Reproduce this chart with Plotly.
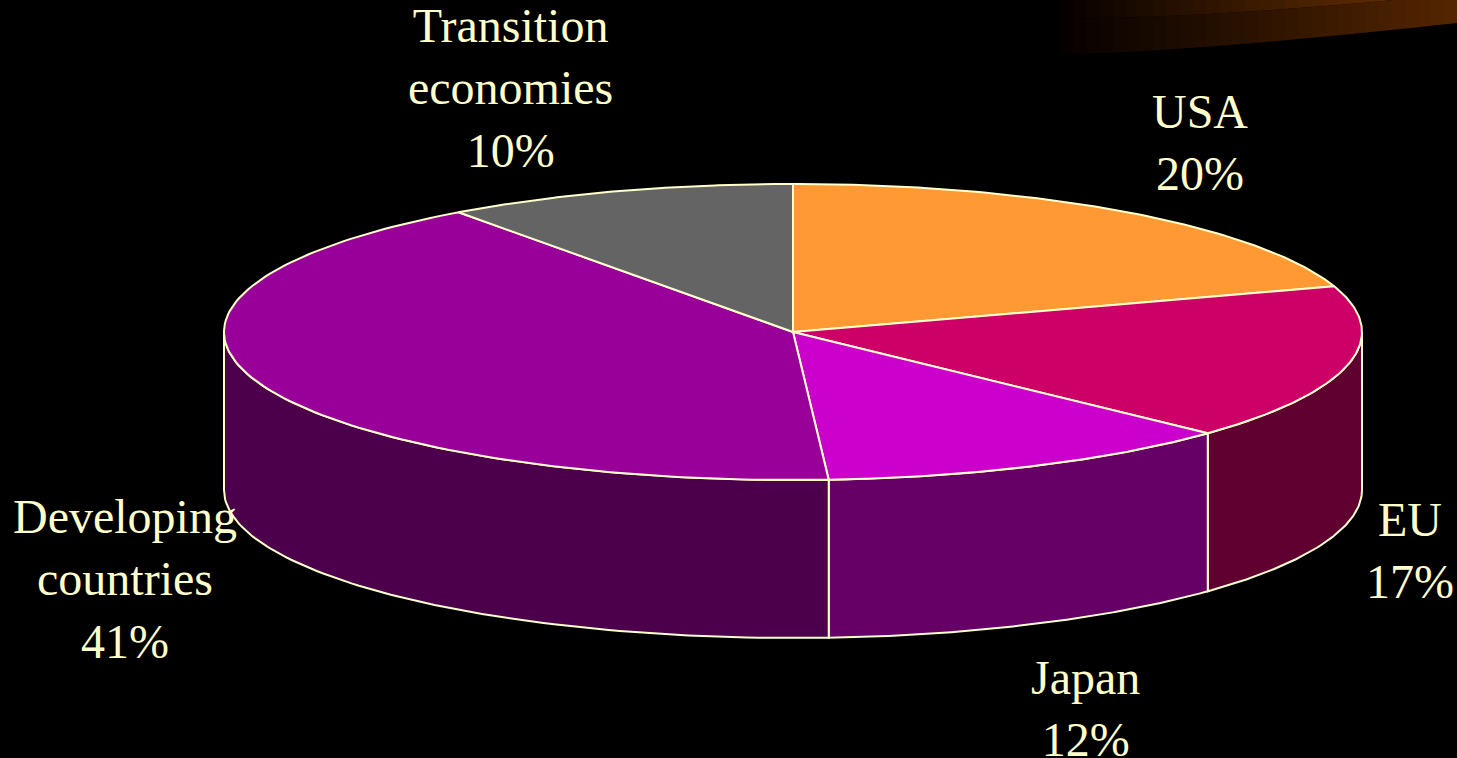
import numpy as np
import plotly.graph_objects as go

# ---- data ----
labels = ["USA", "EU", "Japan", "Developing countries", "Transition economies"]
values = [20, 17, 12, 41, 10]
label_text = ["USA<br>20%", "EU<br>17%", "Japan<br>12%",
              "Developing<br>countries<br>41%", "Transition<br>economies<br>10%"]

# ---- style ----
top_colors = ["#FF9933", "#CC0066", "#CC00CC", "#990099", "#646464"]
side_colors = ["#7F4C19", "#600030", "#660066", "#4C004C", "#333333"]
edge = "#FFFFCC"
W, H = 1457, 758
cx, cy, a, b, depth = 793, 332, 569, 148, 158
label_pos = [(1200, 142), (1410, 550), (1085, 708), (125, 579), (510, 88)]

def pt(theta_deg, dy=0.0):
    t = np.radians(theta_deg)
    return cx + a * np.sin(t), cy - b * np.cos(t) + dy

fracs = np.array(values, dtype=float) / sum(values)
bounds = np.concatenate([[0], np.cumsum(fracs) * 360])

fig = go.Figure()

# side walls (front half: 90..270 deg)
for i in range(len(values)):
    s, e = max(bounds[i], 90), min(bounds[i + 1], 270)
    if e <= s:
        continue
    th = np.linspace(s, e, 80)
    xt, yt = pt(th)
    xb, yb = pt(th[::-1], depth)
    xs = np.concatenate([xt, xb, xt[:1]])
    ys = np.concatenate([yt, yb, yt[:1]])
    fig.add_trace(go.Scatter(x=xs, y=ys, mode="lines", fill="toself",
                             fillcolor=side_colors[i],
                             line=dict(color=edge, width=2),
                             hoverinfo="skip", showlegend=False))

# top faces
for i in range(len(values)):
    th = np.linspace(bounds[i], bounds[i + 1], 120)
    xa, ya = pt(th)
    xs = np.concatenate([[cx], xa, [cx]])
    ys = np.concatenate([[cy], ya, [cy]])
    fig.add_trace(go.Scatter(x=xs, y=ys, mode="lines", fill="toself",
                             fillcolor=top_colors[i],
                             line=dict(color=edge, width=2),
                             name=labels[i],
                             text=f"{labels[i]}: {values[i]}%",
                             hoverinfo="text", showlegend=False))

# labels
for txt, (lx, ly) in zip(label_text, label_pos):
    fig.add_annotation(x=lx, y=ly, text=txt, showarrow=False,
                       xanchor="center", yanchor="middle",
                       font=dict(family="Liberation Serif, Times New Roman, serif",
                                 size=48, color=edge))

# decorative orange swoosh in the top-right corner (background art)
shapes = []
n = 30
x0, x1 = 1060, W
def y_low(x):
    u = (x - 1100) / 357
    return 53 - 30 * np.sign(u) * np.abs(u) ** 1.3
def y_up(x):
    u = (x - 1100) / 357
    return 18 - 24 * np.sign(u) * np.abs(u) ** 1.5
xs = np.linspace(x0, x1, n + 1)
for k in range(n):
    xa_, xb_ = xs[k], xs[k + 1] + 0.8
    t = ((xa_ + xb_) / 2 - x0) / (x1 - x0)
    cu = (int(5 + 110 * t), int(1 + 52 * t), 0)
    cl = (int(5 + 80 * t), int(1 + 37 * t), 0)
    pu = f"M {xa_},{-5} L {xb_},{-5} L {xb_},{y_up(xb_)} L {xa_},{y_up(xa_)} Z"
    pl = (f"M {xa_},{y_up(xa_)} L {xb_},{y_up(xb_)} "
          f"L {xb_},{y_low(xb_)} L {xa_},{y_low(xa_)} Z")
    shapes.append(dict(type="path", path=pu, xref="x", yref="y", layer="below",
                       fillcolor=f"rgb{cu}", line=dict(width=0)))
    shapes.append(dict(type="path", path=pl, xref="x", yref="y", layer="below",
                       fillcolor=f"rgb{cl}", line=dict(width=0)))

fig.update_layout(
    width=W, height=H, autosize=False,
    paper_bgcolor="black", plot_bgcolor="black",
    margin=dict(l=0, r=0, t=0, b=0),
    xaxis=dict(range=[0, W], visible=False, fixedrange=True),
    yaxis=dict(range=[H, 0], visible=False, fixedrange=True),
    shapes=shapes,
    showlegend=False,
)

fig.write_html(
    "out.html",
    config={"displayModeBar": False},
    post_script="document.body.style.margin='0';"
                "document.body.style.background='black';"
                "document.body.style.overflow='hidden';",
)
